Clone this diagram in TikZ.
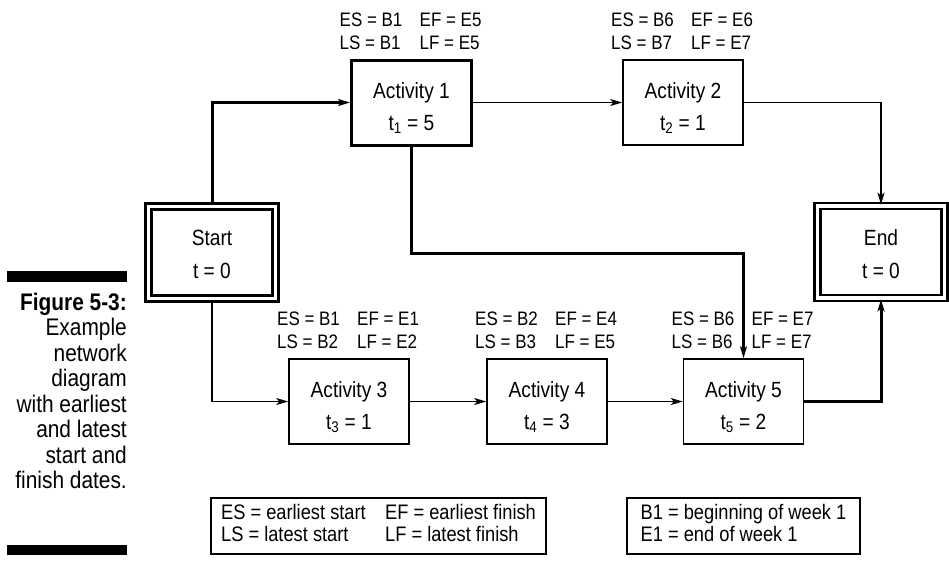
\documentclass[tikz,border=0pt]{standalone}
\usepackage{fontspec}
\setmainfont[FakeStretch=0.87]{Liberation Sans}
\usetikzlibrary{arrows.meta}
\newcommand{\lbltab}[4]{\begin{tabular}{@{}l@{}l@{}}\makebox[80pt][l]{#1}&#2\\\makebox[80pt][l]{#3}&#4\end{tabular}}
\newcommand{\boxtxt}[2]{\begin{tabular}{@{}c@{}}#1\\#2\end{tabular}}
\newcommand{\legtab}[5]{\begin{tabular}{@{}l@{}l@{}}\makebox[#1][l]{#2}&#3\\\makebox[#1][l]{#4}&#5\end{tabular}}
\begin{document}
\begin{tikzpicture}[x=1pt,y=-1pt,
  act/.style={draw, line width=1.5pt, minimum width=120pt, minimum height=85pt, inner sep=0pt},
  crit/.style={act, line width=3pt},
  term/.style={draw, line width=2.8pt, double, double distance=3.3pt, minimum width=127pt, minimum height=92pt, inner sep=0pt},
  btxt/.style={inner sep=0pt, font=\fontsize{22}{32}\selectfont},
  ttxt/.style={inner sep=0pt, font=\fontsize{22}{33}\selectfont},
  lbl/.style={inner sep=0pt, anchor=south west, font=\fontsize{19.5}{23}\selectfont},
  legend/.style={draw, line width=1.2pt, minimum height=56pt, inner sep=0pt, font=\fontsize{21}{21}\selectfont},
  thin/.style={line width=1.5pt, -{Stealth[length=12pt,width=7pt,inset=3pt]}},
  thick/.style={line width=3pt, -{Stealth[length=12pt,width=7pt,inset=3pt]}},
  bar/.style={fill=black, draw=none},
  caption/.style={inner sep=0pt, anchor=north east, align=right, font=\fontsize{24}{25.4}\selectfont}
]
\useasboundingbox (0,0) rectangle (949,560);

% terminal nodes
\node[term] (start) at (212,252.5) {};
\node[ttxt] (startt) at (212,254.9) {\boxtxt{Start}{t = 0}};
\node[term] (endn) at (881,252) {};
\node[ttxt] (endt) at (881,255) {\boxtxt{End}{t = 0}};

% activities
\node[crit] (a1) at (411.5,102.5) {};
\node[btxt] (a1t) at (411.5,107.6) {\boxtxt{Activity 1}{t\textsubscript{1} = 5}};
\node[act] (a2) at (683,102.5) {};
\node[btxt] (a2t) at (683,107.6) {\boxtxt{Activity 2}{t\textsubscript{2} = 1}};
\node[act] (a3) at (349,401.5) {};
\node[btxt] (a3t) at (349,406.6) {\boxtxt{Activity 3}{t\textsubscript{3} = 1}};
\node[act] (a4) at (547,401.5) {};
\node[btxt] (a4t) at (547,406.6) {\boxtxt{Activity 4}{t\textsubscript{4} = 3}};
\node[act] (a5) at (743.5,401.5) {};
\node[btxt] (a5t) at (743.5,406.6) {\boxtxt{Activity 5}{t\textsubscript{5} = 2}};

% date labels
\node[lbl] (l1) at (339.5,56.9) {\lbltab{ES = B1}{EF = E5}{LS = B1}{LF = E5}};
\node[lbl] (l2) at (611,56.9) {\lbltab{ES = B6}{EF = E6}{LS = B7}{LF = E7}};
\node[lbl] (l3) at (277,355.9) {\lbltab{ES = B1}{EF = E1}{LS = B2}{LF = E2}};
\node[lbl] (l4) at (475,355.9) {\lbltab{ES = B2}{EF = E4}{LS = B3}{LF = E5}};
\node[lbl] (l5) at (671.5,355.9) {\lbltab{ES = B6}{EF = E7}{LS = B6}{LF = E7}};

% connectors
\coordinate (k1) at (411.5,253);
\draw[thick] (start.north) |- (a1.west);
\draw[thin] (a1.east) -- (a2.west);
\draw[thin] (a2.east) -| (endn.north);
\draw[thick] (a1.south) -- (k1) -| (a5.north);
\draw[thin] (start.south) |- (a3.west);
\draw[thin] (a3.east) -- (a4.west);
\draw[thin] (a4.east) -- (a5.west);
\draw[thick] (a5.east) -| (endn.south);

% legends
\node[legend, minimum width=335pt] (leg1) at (378.5,526)
  {\legtab{164pt}{ES = earliest start}{EF = earliest finish}{LS = latest start}{LF = latest finish}};
\node[legend, minimum width=233pt] (leg2) at (743.5,526)
  {\begin{tabular}{@{}l@{}}B1 = beginning of week 1\\E1 = end of week 1\end{tabular}};

% caption
\fill[bar] (7,271) rectangle (127,282);
\fill[bar] (7,545) rectangle (127,555);
\node[caption] (cap) at (127,293) {\textbf{Figure 5-3:}\\Example\\network\\diagram\\with earliest\\and latest\\start and\\finish dates.};
\end{tikzpicture}
\end{document}
